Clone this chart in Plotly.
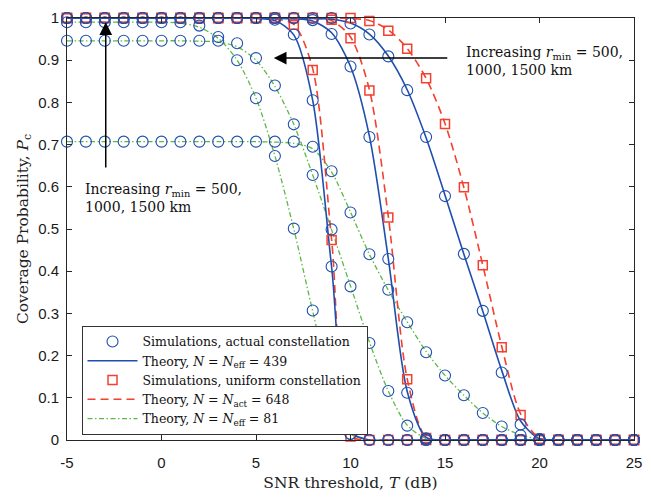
import plotly.graph_objects as go

snr_db = [-5, -4, -3, -2, -1, 0, 1, 2, 3, 4, 5, 6, 7, 8, 9, 10,
          11, 12, 13, 14, 15, 16, 17, 18, 19, 20, 21, 22, 23, 24, 25]

# Simulations, actual constellation (circles)
sim_act_500 = [1.0, 1.0, 1.0, 1.0, 1.0, 1.0, 1.0, 1.0, 1.0, 1.0, 1.0, 1.0, 1.0, 1.0, 1.0,
               0.987, 0.961, 0.909, 0.829, 0.718, 0.578, 0.441, 0.306, 0.16, 0.037, 0.002,
               0.0, 0.0, 0.0, 0.0, 0.0]
sim_act_1000 = [1.0, 1.0, 1.0, 1.0, 1.0, 1.0, 1.0, 1.0, 1.0, 1.0, 1.0, 1.0, 1.0,
                0.995, 0.962, 0.885, 0.718, 0.429, 0.112, 0.004,
                0.0, 0.0, 0.0, 0.0, 0.0, 0.0, 0.0, 0.0, 0.0, 0.0, 0.0]
sim_act_1500 = [1.0, 1.0, 1.0, 1.0, 1.0, 1.0, 1.0, 1.0, 1.0, 1.0, 1.0,
                0.996, 0.961, 0.805, 0.411, 0.014,
                0.0, 0.0, 0.0, 0.0, 0.0, 0.0, 0.0, 0.0, 0.0, 0.0, 0.0, 0.0, 0.0, 0.0, 0.0]
sim_act81_500 = [0.707, 0.707, 0.707, 0.707, 0.707, 0.707, 0.707, 0.707, 0.707, 0.707, 0.707, 0.707, 0.707,
                 0.695, 0.637, 0.539, 0.44, 0.356, 0.279, 0.208, 0.153, 0.106, 0.064, 0.032, 0.011, 0.002,
                 0.0, 0.0, 0.0, 0.0, 0.0]
sim_act81_1000 = [0.946, 0.946, 0.946, 0.946, 0.946, 0.946, 0.946, 0.946, 0.946,
                  0.94, 0.905, 0.84, 0.748, 0.628, 0.499, 0.364, 0.23, 0.116, 0.034, 0.003,
                  0.0, 0.0, 0.0, 0.0, 0.0, 0.0, 0.0, 0.0, 0.0, 0.0, 0.0]
sim_act81_1500 = [0.99, 0.99, 0.99, 0.99, 0.99, 0.99, 0.99,
                  0.982, 0.955, 0.90, 0.81, 0.673, 0.501, 0.307, 0.13, 0.014,
                  0.0, 0.0, 0.0, 0.0, 0.0, 0.0, 0.0, 0.0, 0.0, 0.0, 0.0, 0.0, 0.0, 0.0, 0.0]

# Simulations, uniform constellation (squares)
sim_uni_500 = [1.0, 1.0, 1.0, 1.0, 1.0, 1.0, 1.0, 1.0, 1.0, 1.0, 1.0, 1.0, 1.0, 1.0, 1.0, 1.0,
               0.993, 0.97, 0.927, 0.857, 0.749, 0.599, 0.414, 0.22, 0.059, 0.003,
               0.0, 0.0, 0.0, 0.0, 0.0]
sim_uni_1000 = [1.0, 1.0, 1.0, 1.0, 1.0, 1.0, 1.0, 1.0, 1.0, 1.0, 1.0, 1.0, 1.0, 1.0,
                0.996, 0.952, 0.828, 0.527, 0.144, 0.005,
                0.0, 0.0, 0.0, 0.0, 0.0, 0.0, 0.0, 0.0, 0.0, 0.0, 0.0]
sim_uni_1500 = [1.0, 1.0, 1.0, 1.0, 1.0, 1.0, 1.0, 1.0, 1.0, 1.0, 1.0, 1.0,
                0.984, 0.877, 0.474, 0.008,
                0.0, 0.0, 0.0, 0.0, 0.0, 0.0, 0.0, 0.0, 0.0, 0.0, 0.0, 0.0, 0.0, 0.0, 0.0]

# Theory curves
th_eff439_500 = [1.0, 1.0, 1.0, 1.0, 1.0, 1.0, 1.0, 1.0, 1.0, 1.0, 1.0, 1.0, 1.0, 0.999, 0.997,
                 0.988, 0.962, 0.91, 0.83, 0.716, 0.58, 0.44, 0.305, 0.165, 0.045, 0.003,
                 0.0, 0.0, 0.0, 0.0, 0.0]
th_eff439_1000 = [1.0, 1.0, 1.0, 1.0, 1.0, 1.0, 1.0, 1.0, 1.0, 1.0, 1.0, 0.999, 0.998,
                  0.993, 0.965, 0.885, 0.72, 0.43, 0.115, 0.006,
                  0.0, 0.0, 0.0, 0.0, 0.0, 0.0, 0.0, 0.0, 0.0, 0.0, 0.0]
th_eff439_1500 = [1.0, 1.0, 1.0, 1.0, 1.0, 1.0, 1.0, 1.0, 1.0, 1.0, 0.999,
                  0.994, 0.96, 0.805, 0.41, 0.02,
                  0.0, 0.0, 0.0, 0.0, 0.0, 0.0, 0.0, 0.0, 0.0, 0.0, 0.0, 0.0, 0.0, 0.0, 0.0]
th_act648_500 = [1.0, 1.0, 1.0, 1.0, 1.0, 1.0, 1.0, 1.0, 1.0, 1.0, 1.0, 1.0, 1.0, 1.0, 1.0, 0.999,
                 0.994, 0.972, 0.928, 0.857, 0.75, 0.598, 0.414, 0.222, 0.062, 0.004,
                 0.0, 0.0, 0.0, 0.0, 0.0]
th_act648_1000 = [1.0, 1.0, 1.0, 1.0, 1.0, 1.0, 1.0, 1.0, 1.0, 1.0, 1.0, 1.0, 1.0, 0.999,
                  0.994, 0.955, 0.83, 0.53, 0.145, 0.006,
                  0.0, 0.0, 0.0, 0.0, 0.0, 0.0, 0.0, 0.0, 0.0, 0.0, 0.0]
th_act648_1500 = [1.0, 1.0, 1.0, 1.0, 1.0, 1.0, 1.0, 1.0, 1.0, 1.0, 1.0, 0.998,
                  0.985, 0.88, 0.475, 0.01,
                  0.0, 0.0, 0.0, 0.0, 0.0, 0.0, 0.0, 0.0, 0.0, 0.0, 0.0, 0.0, 0.0, 0.0, 0.0]
th_eff81_500 = [0.707, 0.707, 0.707, 0.707, 0.707, 0.707, 0.707, 0.707, 0.707, 0.707, 0.707, 0.706, 0.703,
                0.69, 0.635, 0.54, 0.44, 0.355, 0.28, 0.21, 0.153, 0.106, 0.064, 0.032, 0.012, 0.002,
                0.0, 0.0, 0.0, 0.0, 0.0]
th_eff81_1000 = [0.946, 0.946, 0.946, 0.946, 0.946, 0.946, 0.946, 0.945, 0.943,
                 0.932, 0.9, 0.838, 0.748, 0.628, 0.498, 0.365, 0.232, 0.116, 0.035, 0.004,
                 0.0, 0.0, 0.0, 0.0, 0.0, 0.0, 0.0, 0.0, 0.0, 0.0, 0.0]
th_eff81_1500 = [0.99, 0.99, 0.99, 0.99, 0.99, 0.99, 0.988,
                 0.978, 0.952, 0.9, 0.81, 0.673, 0.5, 0.305, 0.125, 0.015,
                 0.0, 0.0, 0.0, 0.0, 0.0, 0.0, 0.0, 0.0, 0.0, 0.0, 0.0, 0.0, 0.0, 0.0, 0.0]

x_ticks = [-5, 0, 5, 10, 15, 20, 25]
y_ticks = [0, 0.1, 0.2, 0.3, 0.4, 0.5, 0.6, 0.7, 0.8, 0.9, 1]
y_tick_text = ["0", "0.1", "0.2", "0.3", "0.4", "0.5", "0.6", "0.7", "0.8", "0.9", "1"]

BLUE = "#1f4fae"
RED = "#f4402f"
GREEN = "#5cb848"
SERIF = "DejaVu Serif"
SANS = "Liberation Sans"

fig = go.Figure()

# Theory lines
for i, ys in enumerate([th_eff81_500, th_eff81_1000, th_eff81_1500]):
    fig.add_trace(go.Scatter(x=snr_db, y=ys, mode="lines",
                             line=dict(color=GREEN, width=1.3, dash="5px,2.5px,1.5px,2.5px", shape="spline", smoothing=0.8),
                             name="Theory, <i>N</i> = <i>N</i><sub>eff</sub> = 81",
                             showlegend=(i == 0), legendrank=5))
for i, ys in enumerate([th_act648_500, th_act648_1000, th_act648_1500]):
    fig.add_trace(go.Scatter(x=snr_db, y=ys, mode="lines",
                             line=dict(color=RED, width=1.6, dash="8px,5px", shape="spline", smoothing=0.8),
                             name="Theory, <i>N</i> = <i>N</i><sub>act</sub> = 648",
                             showlegend=(i == 0), legendrank=4))
for i, ys in enumerate([th_eff439_500, th_eff439_1000, th_eff439_1500]):
    fig.add_trace(go.Scatter(x=snr_db, y=ys, mode="lines",
                             line=dict(color=BLUE, width=1.6, shape="spline", smoothing=0.8),
                             name="Theory, <i>N</i> = <i>N</i><sub>eff</sub> = 439",
                             showlegend=(i == 0), legendrank=2))

# Simulation markers
for i, ys in enumerate([sim_uni_500, sim_uni_1000, sim_uni_1500]):
    fig.add_trace(go.Scatter(x=snr_db, y=ys, mode="markers",
                             marker=dict(symbol="square-open", size=9, color=RED, line=dict(width=1.5)),
                             name="Simulations, uniform constellation", cliponaxis=False,
                             showlegend=(i == 0), legendrank=3))
for i, ys in enumerate([sim_act_500, sim_act_1000, sim_act_1500,
                        sim_act81_500, sim_act81_1000, sim_act81_1500]):
    fig.add_trace(go.Scatter(x=snr_db, y=ys, mode="markers",
                             marker=dict(symbol="circle-open", size=11, color=BLUE, line=dict(width=1.1)),
                             name="Simulations, actual constellation", cliponaxis=False,
                             showlegend=(i == 0), legendrank=1))

# Arrows
fig.add_annotation(x=-2.95, y=0.99, ax=-2.95, ay=0.642, xref="x", yref="y", axref="x", ayref="y",
                   text="", showarrow=True, arrowhead=2, arrowsize=1.7, arrowwidth=1.5,
                   arrowcolor="black", standoff=0)
fig.add_annotation(x=5.94, y=0.905, ax=15.2, ay=0.905, xref="x", yref="y", axref="x", ayref="y",
                   text="", showarrow=True, arrowhead=2, arrowsize=1.7, arrowwidth=1.5,
                   arrowcolor="black", standoff=0)
label = "Increasing <i>r</i><sub>min</sub> = 500,<br>1000, 1500 km"
fig.add_annotation(x=-4.15, y=0.574, xref="x", yref="y", text=label, showarrow=False,
                   xanchor="left", yanchor="middle", align="left",
                   font=dict(family=SERIF, size=14, color="#111"))
fig.add_annotation(x=15.99, y=0.8975, xref="x", yref="y", text=label, showarrow=False,
                   xanchor="left", yanchor="middle", align="left",
                   font=dict(family=SERIF, size=14, color="#111"))

axis_common = dict(showline=True, linecolor="#262626", linewidth=1, mirror="ticks",
                   ticks="inside", ticklen=5, tickcolor="#262626", showgrid=False, zeroline=False,
                   tickfont=dict(family=SANS, size=15, color="#1a1a1a"))
fig.update_xaxes(range=[-5, 25], tickvals=x_ticks, ticktext=[str(v) for v in x_ticks],
                 title=dict(text="SNR threshold, <i>T</i> (dB)", font=dict(family=SERIF, size=15.5, color="#222"), standoff=7),
                 ticklabelstandoff=9, **axis_common)
fig.update_yaxes(range=[0, 1], tickvals=y_ticks, ticktext=y_tick_text,
                 title=dict(text="Coverage Probability, <i>P</i><sub>c</sub>", font=dict(family=SERIF, size=15.5, color="#222"), standoff=5),
                 ticklabelstandoff=4, **axis_common)

fig.update_layout(
    width=651, height=498,
    margin=dict(l=67, r=9, t=10, b=50, pad=0),
    plot_bgcolor="white", paper_bgcolor="white",
    legend=dict(x=0.0256, y=0.012, xanchor="left", yanchor="bottom",
                bgcolor="white", bordercolor="#333", borderwidth=1,
                font=dict(family=SERIF, size=12.5, color="#111"),
                itemwidth=50, tracegroupgap=0, traceorder="normal"),
)

fig.write_html("out.html")
